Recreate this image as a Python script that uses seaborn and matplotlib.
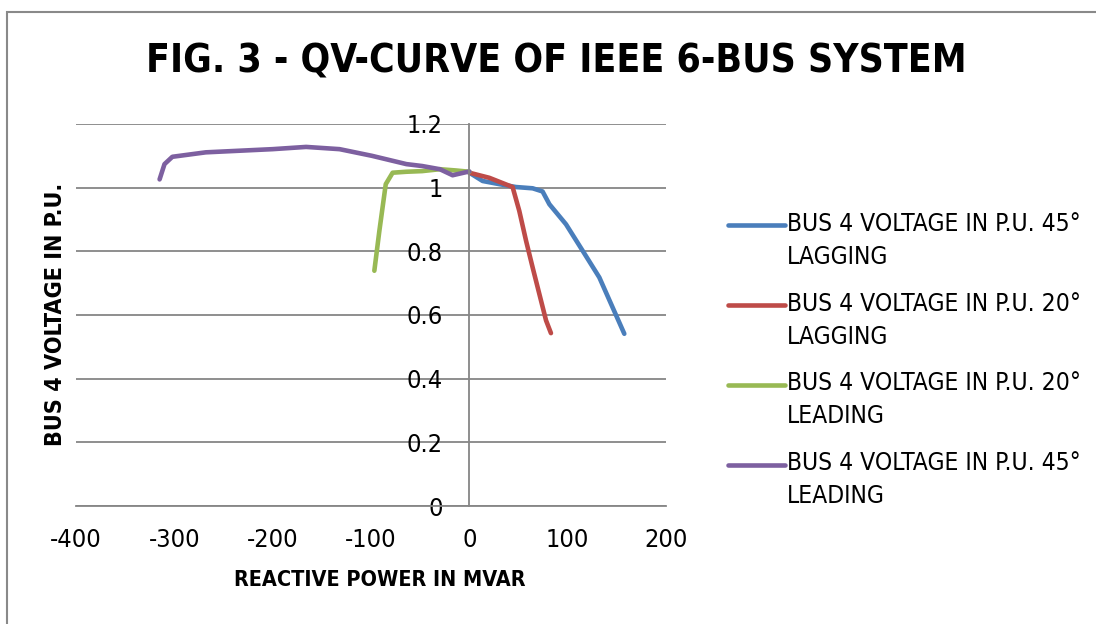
import numpy as np
import pandas as pd
import matplotlib
matplotlib.use("Agg")
import matplotlib.pyplot as plt
import matplotlib.font_manager as fm
from matplotlib.patches import Rectangle
from matplotlib.ticker import FuncFormatter
import seaborn as sns

# values (Q in MVAR, V in p.u.)
lag45_q = [0, 13.5, 30.5, 47.5, 64.4, 74.5, 81.4, 98.3, 115.2, 132.2, 157.6]
lag45_v = [1.047, 1.021, 1.011, 1.002, 0.998, 0.988, 0.948, 0.885, 0.802, 0.718, 0.541]

lag20_q = [0, 20.3, 44.0, 50.8, 57.7, 64.4, 71.2, 78.0, 83.0]
lag20_v = [1.047, 1.031, 1.002, 0.927, 0.833, 0.749, 0.666, 0.583, 0.543]

lead20_q = [-96.6, -91.5, -85.0, -78.0, -64.0, -48.0, -30.0, -13.5, 0]
lead20_v = [0.739, 0.864, 1.011, 1.047, 1.050, 1.052, 1.058, 1.054, 1.050]

lead45_q = [-315, -310, -302, -268, -234, -200, -166, -132, -99, -64, -48, -30, -17, 0]
lead45_v = [1.026, 1.074, 1.097, 1.111, 1.116, 1.121, 1.128, 1.121, 1.100, 1.074, 1.068, 1.058, 1.039, 1.051]

series_names = ["BUS 4 VOLTAGE IN P.U. 45°\nLAGGING",
                "BUS 4 VOLTAGE IN P.U. 20°\nLAGGING",
                "BUS 4 VOLTAGE IN P.U. 20°\nLEADING",
                "BUS 4 VOLTAGE IN P.U. 45°\nLEADING"]
colors = ["#4A7EBB", "#BE4B48", "#98B954", "#7D60A0"]

x_ticks = [-400, -300, -200, -100, 0, 100, 200]
y_ticks = [0, 0.2, 0.4, 0.6, 0.8, 1.0, 1.2]

# long table for seaborn
frames = []
for name, q, v in zip(series_names,
                      [lag45_q, lag20_q, lead20_q, lead45_q],
                      [lag45_v, lag20_v, lead20_v, lead45_v]):
    frames.append(pd.DataFrame({"Q": q, "V": v, "series": name}))
df = pd.concat(frames, ignore_index=True)

# look for a narrow sans face (the original uses Arial Narrow)
family, stretch = "DejaVu Sans", "normal"
entries = fm.fontManager.ttflist
for want in ["Liberation Sans Narrow", "Arial Narrow"]:
    if any(f.name == want for f in entries):
        family = want
        break
else:
    for fam in ["DejaVu Sans", "Noto Sans", "Open Sans", "Roboto", "Liberation Sans", "Lato", "Inter"]:
        st = [f.stretch for f in entries if f.name == fam and "condensed" in str(f.stretch)]
        if st:
            family, stretch = fam, ("condensed" if "condensed" in st else st[0])
            break
    else:
        named = [f.name for f in entries if "Condensed" in f.name or "Narrow" in f.name]
        if named:
            family = named[0]

sns.set_style("white")
plt.rcParams["font.family"] = [family, "DejaVu Sans"]
plt.rcParams["font.stretch"] = stretch
plt.rcParams["axes.unicode_minus"] = False
plt.rcParams["text.color"] = "black"
plt.rcParams["xtick.color"] = "black"
plt.rcParams["ytick.color"] = "black"

fig = plt.figure(figsize=(10.96, 6.24), dpi=100)
ax = fig.add_axes([76 / 1096, 1 - 506 / 624, 590 / 1096, 382 / 624])

sns.lineplot(data=df, x="Q", y="V", hue="series", hue_order=series_names,
             palette=colors, sort=False, estimator=None, linewidth=3.3,
             solid_capstyle="round", ax=ax, legend=True)

ax.set_xlim(-400, 200)
ax.set_ylim(0, 1.2)
ax.set_xticks(x_ticks)
ax.set_yticks(y_ticks)
ax.yaxis.set_major_formatter(FuncFormatter(lambda v, p: f"{v:g}"))
ax.grid(axis="y", color="#868686", linewidth=1.3)
ax.set_axisbelow(True)

for s in ["top", "right"]:
    ax.spines[s].set_visible(False)
ax.spines["left"].set_position(("data", 0))
for s in ["left", "bottom"]:
    ax.spines[s].set_color("#868686")
    ax.spines[s].set_linewidth(1.3)

ax.set_xlabel("")
ax.set_ylabel("")
xlab = fig.text(380 / 1096, 1 - 580 / 624, "REACTIVE POWER IN MVAR", ha="center",
                va="center", fontsize=19, fontweight="bold")
ylab = fig.text(56 / 1096, 1 - 314 / 624, "BUS 4 VOLTAGE IN P.U.", ha="center",
                va="center", rotation=90, fontsize=19, fontweight="bold")
title = fig.text(556 / 1096, 1 - 62 / 624, "FIG. 3 - QV-CURVE OF IEEE 6-BUS SYSTEM",
                 ha="center", va="center", fontsize=37, fontweight="bold")

# scale text sizes so the widths match the original
fig.canvas.draw()
r = fig.canvas.get_renderer()
title.set_fontsize(37 * 820 / title.get_window_extent(r).width)
xlab.set_fontsize(19 * 292 / xlab.get_window_extent(r).width)
ylab.set_fontsize(19 * 264 / ylab.get_window_extent(r).height)
probe = fig.text(0, 0, "BUS 4 VOLTAGE IN P.U. 45°", fontsize=19.5)
leg_size = min(19.5, 19.5 * 295 / probe.get_window_extent(r).width)
probe.remove()
tick_size = min(19.5, leg_size * 1.03)
px = leg_size * 100 / 72  # font size in pixels

ax.tick_params(axis="y", length=0, pad=19, labelsize=tick_size)
ax.tick_params(axis="x", length=0, pad=16, labelsize=tick_size)

leg = ax.legend(loc="center left", bbox_to_anchor=(728 / 1096, 1 - 360 / 624),
                bbox_transform=fig.transFigure, frameon=False, fontsize=leg_size,
                handlelength=57 / px, handletextpad=0.08,
                labelspacing=23 / px, borderpad=0, borderaxespad=0)
for t in leg.get_texts():
    t.set_linespacing(1.46)
# put the line next to the first text row, like the original
for ln in leg.get_lines():
    ln.set_linewidth(3.3)
    ln.set_solid_capstyle("round")
    ln.set_ydata(np.asarray(ln.get_ydata()) + 16 * 72 / 100)

fig.add_artist(Rectangle((7 / 1096, -0.1), 1.2, 1.1 - 12 / 624, fill=False,
                         edgecolor="#898989", linewidth=1.5, transform=fig.transFigure))

fig.savefig("out.png", dpi=100)
